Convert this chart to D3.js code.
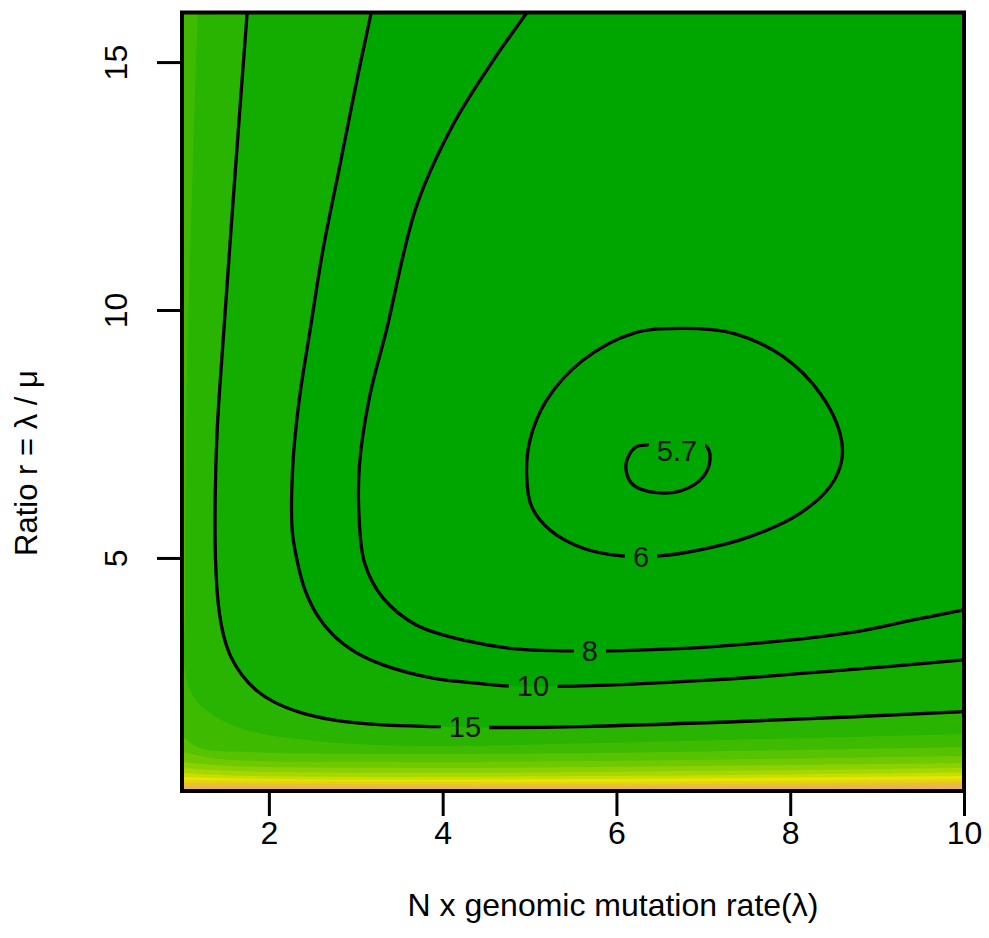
<html>

<script src="https://d3js.org/d3.v7.min.js"></script>

<style>

    body {
        margin: 0;
        background: white;
    }

    text {
        font-family: "Liberation Sans", Arial, sans-serif;
    }

    .contour {
        fill: none;
        stroke: black;
        stroke-width: 3.3px;
    }

    .frame {
        fill: none;
        stroke: black;
        stroke-width: 4px;
    }

    .axis line {
        stroke: black;
        stroke-width: 3px;
    }

    .axis text {
        font-size: 32px;
        fill: black;
    }

    .clabel {
        font-size: 29px;
        fill: #111;
        text-anchor: middle;
    }

</style>

<svg width=989 height=938></svg>

<script>

    // axes
    const xDomain = [1, 10];
    const yDomain = [0.3, 16];
    const xTicks = [2, 4, 6, 8, 10];
    const yTicks = [5, 10, 15];

    // contour lines, points are [lambda, r]
    const line15 = [[1.75, 16], [1.617, 12.89], [1.482, 9.60], [1.405, 7.58], [1.382, 6.23], [1.387, 4.90],
        [1.419, 4.052], [1.477, 3.448], [1.563, 3.004], [1.69, 2.641], [1.851, 2.339], [2.058, 2.097],
        [2.358, 1.885], [2.737, 1.734], [3.313, 1.633], [3.923, 1.599], [4.522, 1.581], [5.58, 1.599],
        [7.882, 1.734], [10, 1.901]];
    const line10 = [[3.178, 16], [3.005, 14.57], [2.814, 12.89], [2.622, 11.21], [2.475, 9.60], [2.354, 8.25],
        [2.277, 6.92], [2.268, 5.565], [2.323, 4.96], [2.415, 4.355], [2.554, 3.851], [2.737, 3.448],
        [2.99, 3.105], [3.313, 2.843], [3.888, 2.575], [4.463, 2.46], [4.751, 2.419], [5.327, 2.409],
        [7.115, 2.54], [8.65, 2.742], [10, 2.944]];
    const line8 = [[4.97, 16], [4.533, 14.905], [4.107, 13.696], [3.696, 12.08], [3.354, 9.60],
        [3.159, 8.25], [3.044, 6.909], [3.036, 5.901], [3.102, 4.893], [3.313, 4.194], [3.696, 3.649],
        [4.271, 3.331], [4.843, 3.165], [5.5, 3.125], [5.906, 3.125], [7.115, 3.212], [8.65, 3.482],
        [9.417, 3.75], [10, 3.952]];
    const line6 = [[6.769, 9.631], [7.345, 9.53], [7.92, 9.058], [8.343, 8.321], [8.573, 7.514], [8.593, 6.976],
        [8.458, 6.438], [8.112, 5.901], [7.537, 5.429], [6.961, 5.161], [6.501, 5.04], [6.06, 5.04],
        [5.618, 5.196], [5.235, 5.565], [5.024, 6.034], [4.967, 6.639], [5.005, 7.379], [5.197, 8.185],
        [5.618, 8.992], [6.194, 9.53]];
    const line57 = [[6.348, 7.278], [6.233, 7.244], [6.136, 7.042], [6.11, 6.774], [6.194, 6.472], [6.463, 6.317],
        [6.769, 6.371], [6.999, 6.639], [7.077, 6.976], [7.039, 7.244], [6.846, 7.359], [6.558, 7.379]];

    const labelText = ['15', '10', '8', '6', '5.7'];
    const labelPos = [[4.256, 1.593], [5.039, 2.419], [5.695, 3.125], [6.283, 5.02], [6.697, 7.157]];

    // boundaries of the filled levels (unlabelled ones hug the left and bottom edges)
    const band20 = [[1.183, 16], [1.125, 12.9], [1.068, 9.6], [1.045, 7.18], [1.039, 4.153], [1.045, 2.6],
        [1.16, 2.137], [1.39, 1.794], [1.782, 1.512], [2.541, 1.31], [3.692, 1.21], [5.81, 1.268], [10, 1.452]];
    const band25 = [[1, 1.409], [1.206, 1.167], [1.781, 1.086], [3.508, 1.046], [5.81, 1.066], [10, 1.187]];
    const band30 = [[1, 1.086], [1.436, 0.945], [3.508, 0.885], [5.81, 0.905], [10, 1.006]];
    const band35 = [[1, 0.885], [1.551, 0.804], [3.508, 0.764], [5.81, 0.784], [10, 0.865]];
    const band40 = [[1, 0.764], [1.666, 0.703], [3.508, 0.663], [5.81, 0.683], [10, 0.764]];
    const band45 = [[1, 0.663], [1.781, 0.602], [5.81, 0.602], [10, 0.673]];
    const band50 = [[1, 0.582], [2.357, 0.532], [5.81, 0.542], [10, 0.602]];
    const band55 = [[1, 0.522], [5.81, 0.481], [10, 0.542]];
    const band60 = [[1, 0.461], [5.81, 0.431], [10, 0.481]];
    const band65 = [[1, 0.411], [5.81, 0.391], [10, 0.431]];
    const band70 = [[1, 0.371], [5.81, 0.35], [10, 0.391]];
    const band75 = [[1, 0.34], [5.81, 0.32], [10, 0.35]];

    const fillLevels = [10, 15, 20, 25, 30, 35, 40, 45, 50, 55, 60, 65, 70, 75];
    const fillBounds = [line10, line15, band20, band25, band30, band35, band40, band45, band50,
        band55, band60, band65, band70, band75];

    // same ramp as R's terrain.colors
    let hsv = function(h, s, v) {
        let i = Math.floor(h * 6), f = h * 6 - i;
        let p = v * (1 - s), q = v * (1 - f * s), t = v * (1 - (1 - f) * s);
        let c = [[v, t, p], [q, v, p], [p, v, t], [p, q, v], [t, p, v], [v, p, q]][i % 6];
        return d3.rgb(c[0] * 255, c[1] * 255, c[2] * 255).formatHex();
    }
    let terrainColors = function(n) {
        let k = Math.floor(n / 2), m = n - k, out = [];
        for (let j = 0; j < k; j++) {
            let f = j / (k - 1);
            out.push(hsv(4 / 12 - f * 2 / 12, 1, 0.65 + f * 0.25));
        }
        for (let j = 1; j <= m; j++) {
            let f = j / m;
            out.push(hsv(2 / 12 * (1 - f), 1 - f, 0.9 + 0.05 * f));
        }
        return out;
    }
    const palette = terrainColors(20);

    let svg = d3.select('svg'),
        plotLeft = 182, plotRight = 964, plotTop = 12.5, plotBottom = 791;

    let x = d3.scaleLinear().domain(xDomain).range([plotLeft, plotRight]);
    let y = d3.scaleLinear().domain(yDomain).range([plotBottom, plotTop]);

    let defs = svg.append('defs');
    defs.append('clipPath')
        .attr('id', 'plotClip')
        .append('rect')
        .attr('x', plotLeft)
        .attr('y', plotTop)
        .attr('width', plotRight - plotLeft)
        .attr('height', plotBottom - plotTop);

    let plot = svg.append('g').attr('clip-path', 'url(#plotClip)');

    plot.append('rect')
        .attr('x', plotLeft)
        .attr('y', plotTop)
        .attr('width', plotRight - plotLeft)
        .attr('height', plotBottom - plotTop)
        .attr('fill', palette[0]);

    let curve = d3.line()
        .x(d => x(d[0]))
        .y(d => y(d[1]))
        .curve(d3.curveCatmullRom);

    let closedCurve = d3.line()
        .x(d => x(d[0]))
        .y(d => y(d[1]))
        .curve(d3.curveCatmullRomClosed);

    // region above a level: boundary, then round the bottom-left corner
    let bandPath = function(pts) {
        let a = pts[0], b = pts[pts.length - 1];
        let x0 = x(xDomain[0]) - 20, x1 = x(xDomain[1]) + 20, y0 = y(yDomain[0]) + 20;
        return curve(pts)
            + 'L' + x1 + ',' + y(b[1])
            + 'L' + x1 + ',' + y0
            + 'L' + x0 + ',' + y0
            + 'L' + x0 + ',' + y(a[1]) + 'Z';
    }

    plot.selectAll('.band')
        .data(fillBounds)
        .enter()
        .append('path')
        .attr('class', 'band')
        .attr('d', d => bandPath(d))
        .attr('fill', (d, i) => palette[i + 1]);

    // labels first, to measure the gaps they cut in the lines
    let labels = svg.append('g');
    labels.selectAll('text')
        .data(labelText)
        .enter()
        .append('text')
        .attr('class', 'clabel')
        .attr('x', (d, i) => x(labelPos[i][0]))
        .attr('y', (d, i) => y(labelPos[i][1]))
        .attr('dy', '0.36em')
        .text(d => d);

    let mask = defs.append('mask')
        .attr('id', 'labelMask')
        .attr('maskUnits', 'userSpaceOnUse')
        .attr('x', 0).attr('y', 0).attr('width', 989).attr('height', 938);
    mask.append('rect')
        .attr('width', 989)
        .attr('height', 938)
        .attr('fill', 'white');
    labels.selectAll('text').each(function() {
        let bb = this.getBBox();
        mask.append('rect')
            .attr('x', bb.x - 8)
            .attr('y', bb.y - 2)
            .attr('width', bb.width + 16)
            .attr('height', bb.height + 4)
            .attr('fill', 'black');
    });

    let lines = plot.append('g').attr('mask', 'url(#labelMask)');
    [line15, line10, line8].forEach(l => {
        lines.append('path').attr('class', 'contour').attr('d', curve(l));
    });
    [line6, line57].forEach(l => {
        lines.append('path').attr('class', 'contour').attr('d', closedCurve(l));
    });

    labels.raise();

    // axes
    let xAxis = svg.append('g')
        .attr('class', 'axis')
        .attr('transform', 'translate(0,' + plotBottom + ')')
        .call(d3.axisBottom(x).tickValues(xTicks).tickSize(25).tickPadding(5).tickFormat(d3.format('d')));
    xAxis.select('.domain').remove();

    let yAxis = svg.append('g')
        .attr('class', 'axis')
        .attr('transform', 'translate(' + plotLeft + ',0)')
        .call(d3.axisLeft(y).tickValues(yTicks).tickSize(25).tickFormat(d3.format('d')));
    yAxis.select('.domain').remove();
    yAxis.selectAll('text')
        .attr('transform', 'rotate(-90)')
        .attr('x', 0)
        .attr('y', -55)
        .attr('dy', 0)
        .style('text-anchor', 'middle');

    svg.append('rect')
        .attr('class', 'frame')
        .attr('x', plotLeft)
        .attr('y', plotTop)
        .attr('width', plotRight - plotLeft)
        .attr('height', plotBottom - plotTop);

    // titles
    svg.append('text')
        .attr('x', 613)
        .attr('y', 916)
        .attr('text-anchor', 'middle')
        .style('font-size', '32px')
        .text('N x genomic mutation rate(\u03BB)');

    svg.append('text')
        .attr('transform', 'translate(37,463) rotate(-90)')
        .attr('text-anchor', 'middle')
        .style('font-size', '31px')
        .text('Ratio r = \u03BB / \u03BC');

</script>
</html>
